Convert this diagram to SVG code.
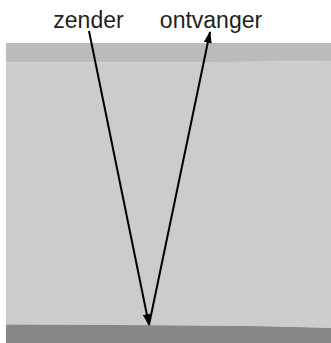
<svg xmlns="http://www.w3.org/2000/svg" width="331" height="343" viewBox="0 0 331 343">
  <style>
    .label { font-family: "Liberation Sans", Arial, sans-serif; font-size: 23px; fill: #231f20; text-anchor: middle; }
    .ray { stroke: #000; stroke-width: 2; fill: none; }
  </style>
  <defs>
    <marker id="head" viewBox="0 0 12 8" refX="11" refY="4" markerWidth="6" markerHeight="4" orient="auto" markerUnits="strokeWidth">
      <path d="M0,0 L12,4 L0,8 z" fill="#000"/>
    </marker>
  </defs>
  <rect width="331" height="343" fill="#fff"/>
  <g id="layers">
    <!-- upper layer -->
    <path d="M6,43 L331,43 L331,61 Q200,62.5 6,62.5 Z" fill="#bbbbbb"/>
    <!-- middle layer -->
    <path d="M6,62.5 Q200,62.5 331,61 L331,328 Q250,325 6,324.5 Z" fill="#cccccc"/>
    <!-- bottom layer -->
    <path d="M6,324.5 Q250,325 331,328 L331,343 L6,343 Z" fill="#878787"/>
  </g>
  <g id="zender">
    <text class="label" x="88.5" y="28">zender</text>
  </g>
  <g id="ontvanger">
    <text class="label" x="211" y="28">ontvanger</text>
  </g>
  <g id="connectors">
    <line class="ray" x1="89" y1="31" x2="149" y2="325" marker-end="url(#head)"/>
    <line class="ray" x1="149" y1="325" x2="210" y2="32" marker-end="url(#head)"/>
  </g>
</svg>
